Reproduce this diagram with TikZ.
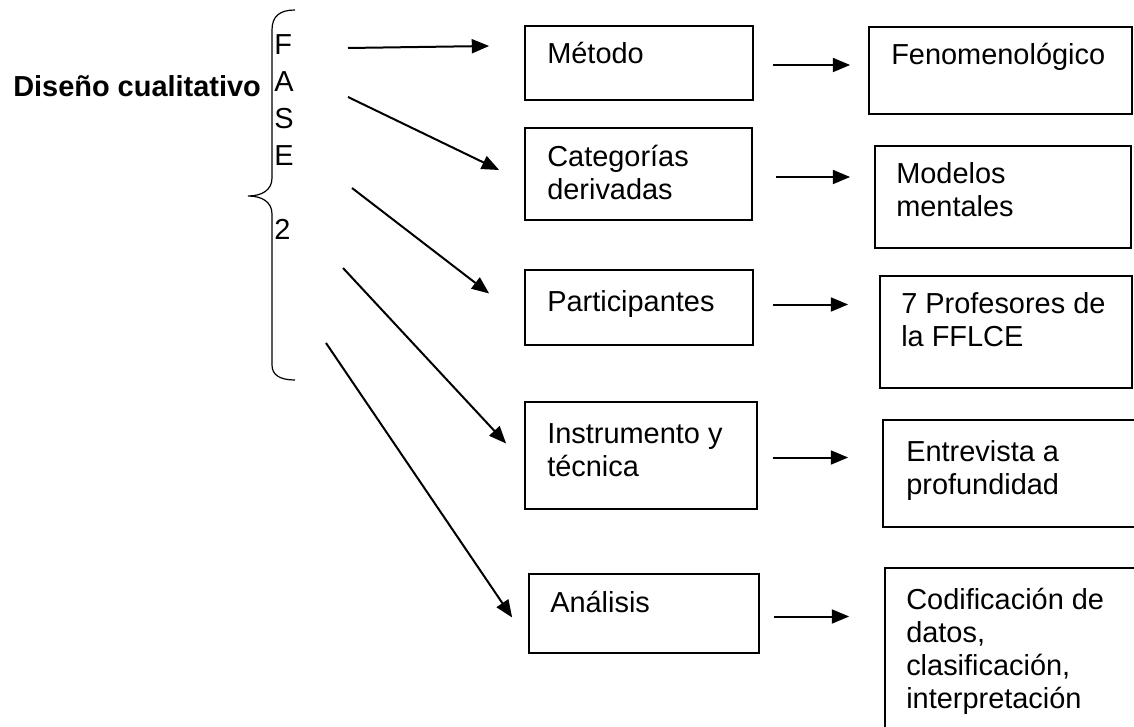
\documentclass[tikz,border=0pt]{standalone}
\usepackage{fontspec}
\setmainfont{Liberation Sans}
\usetikzlibrary{positioning, fit, calc, arrows.meta}

\tikzset{
  box/.style={draw, line width=1.3pt, inner sep=0pt},
  txt/.style={font=\fontsize{21.7}{24.75}\selectfont, align=left, anchor=base west, inner sep=0pt},
  arr/.style={-{Triangle[length=13pt,width=10.5pt]}, line width=1.5pt}
}

\begin{document}
\begin{tikzpicture}[x=0.75pt,y=-0.75pt]
\useasboundingbox (0,0) rectangle (1134,727);

% title and brace
\node[txt, font=\fontsize{21.7}{24.75}\selectfont\bfseries] (titulo) at (13,97) {Diseño cualitativo};
\draw[line width=0.9pt] (295,10) .. controls (280,10) and (272,16) .. (272,30) -- (272,178)
  .. controls (272,190) and (262,196) .. (248,196) .. controls (262,196) and (272,202) .. (272,214)
  -- (272,365) .. controls (272,375) and (280,380) .. (295,380);
% base of a multi-line node = its last line
\node[txt, font=\fontsize{21.7}{27.75}\selectfont] (fase) at (274,166) {F\\A\\S\\E};
\node[txt] (dos) at (274,239) {2};

% left column
\node[box, fit={(525,26) (753,100)}] (met) {};
\node[box, fit={(525,128) (752,220)}] (cat) {};
\node[box, fit={(525,270) (753,345)}] (par) {};
\node[box, fit={(525,402) (757,509)}] (ins) {};
\node[box, fit={(529,574) (759,653)}] (ana) {};
\node[txt] (metT) at (547,64) {Método};
\node[txt] (catT) at (547,200) {Categorías\\derivadas};
\node[txt] (parT) at (547,311) {Participantes};
\node[txt] (insT) at (547,476) {Instrumento y\\técnica};
\node[txt] (anaT) at (550,612) {Análisis};

% right column
\node[box, fit={(869,27) (1132,114)}] (fen) {};
\node[box, fit={(875,146) (1131,248)}] (mod) {};
\node[box, fit={(880,276) (1132,388)}] (pro) {};
\node[box, fit={(883,420) (1150,527)}] (ent) {};
\node[box, fit={(885,568) (1150,760)}] (cod) {};
\node[txt] (fenT) at (891,65) {Fenomenológico};
\node[txt] (modT) at (896,217) {Modelos\\mentales};
\node[txt] (proT) at (901,346) {7 Profesores de\\la FFLCE};
\node[txt] (entT) at (906,494) {Entrevista a\\profundidad};
\node[txt] (codT) at (906,708) {Codificación de\\datos,\\clasificación,\\interpretación};

% arrows from the brace
\coordinate (s1) at (348,48);
\coordinate (s2) at (348,97);
\coordinate (s3) at (352,188);
\coordinate (s4) at (343,268);
\coordinate (s5) at (326,343);
\draw[arr] (s1) -- ($(met.west)+(-35,-17)$);
\draw[arr] (s2) -- ($(cat.west)+(-25,-4)$);
\draw[arr] (s3) -- ($(par.west)+(-35,-14)$);
\draw[arr] (s4) -- ($(ins.west)+(-18,-12)$);
\draw[arr] (s5) -- ($(ana.west)+(-16,4)$);

% arrows between columns
\draw[arr] ($(met.east)+(19,2)$) -- ($(met.east -| fen.west)+(-18,2)$);
\draw[arr] ($(cat.east)+(23,3)$) -- ($(cat.east -| mod.west)+(-24,3)$);
\draw[arr] ($(par.east)+(19,-3)$) -- ($(par.east -| pro.west)+(-31,-3)$);
\draw[arr] ($(ins.east)+(15,2)$) -- ($(ins.east -| ent.west)+(-34,2)$);
\draw[arr] ($(ana.east)+(14,3)$) -- ($(ana.east -| cod.west)+(-35,3)$);
\end{tikzpicture}
\end{document}
